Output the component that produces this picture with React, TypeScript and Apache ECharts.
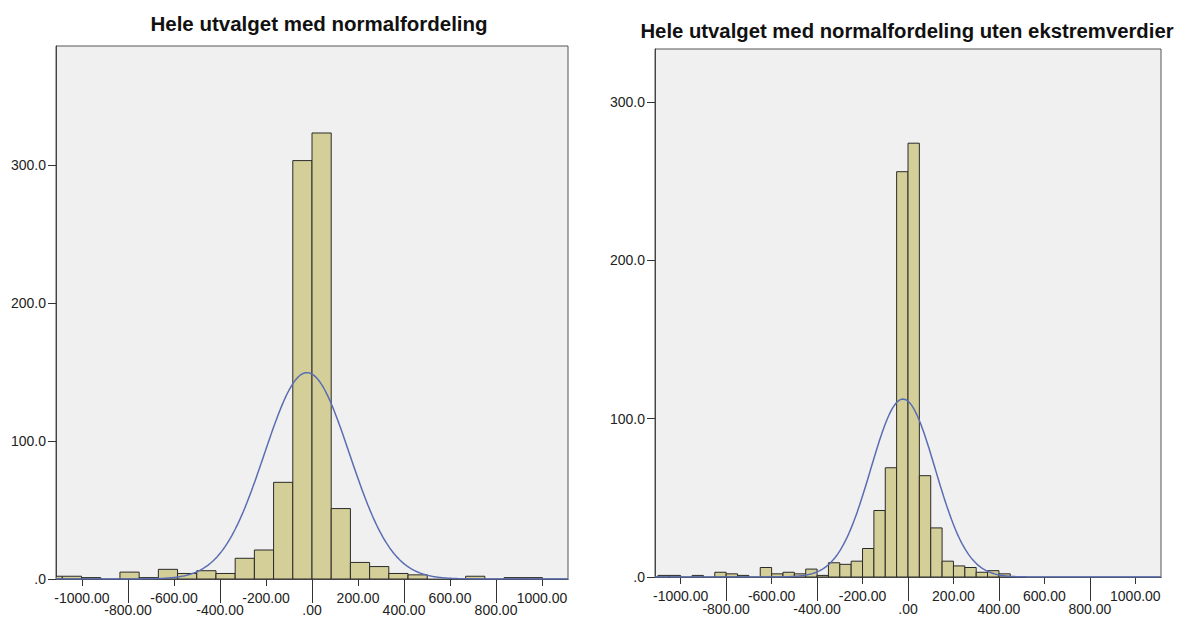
import React, { useEffect, useRef } from "react";
import * as echarts from "echarts";

// ---- data ----
const leftTitle = "Hele utvalget med normalfordeling";
const rightTitle = "Hele utvalget med normalfordeling uten ekstremverdier";

// Left histogram: bin width and first bin edge, counts per bin
const leftBinWidth = 83.5;
const leftFirstEdge = -1169;
const leftCounts = [2, 2, 1, 0, 5, 1, 7, 4, 6, 4, 15, 21, 70, 303, 323, 51, 12, 9, 4, 3, 0, 0, 2, 0, 1, 1];

// Right histogram
const rightBinWidth = 50;
const rightFirstEdge = -1100;
const rightCounts = [1, 1, 0, 1, 0, 3, 2, 1, 0, 6, 2, 3, 2, 5, 1, 9, 8, 10, 18, 42, 69, 256, 274, 64, 31, 10, 7, 6, 3, 4, 2];

// Normal curve parameters (mean, sd, n)
const leftNormal = { mean: -22, sd: 185, n: 830 };
const rightNormal = { mean: -22, sd: 142, n: 800 };

// Axis settings
const xMin = -1113;
const xMax = 1113;
const xLabelsUpper = [-1000, -600, -200, 200, 600, 1000];
const xLabelsLower = [-800, -400, 0, 400, 800];
const yTicks = [0, 100, 200, 300];
const leftYMax = 386;
const rightYMax = 333.5;

const FONT = "'Liberation Sans', Arial, sans-serif";
const BAR_FILL = "#d4cf99";
const BAR_STROKE = "#2a2a2a";
const CURVE = "#5a6db3";
const LABEL_SIZE = 14;

function binData(first: number, width: number, counts: number[]) {
  return counts.map((c, i) => [first + i * width, first + (i + 1) * width, c]);
}

function curveData(p: { mean: number; sd: number; n: number }, binWidth: number) {
  const pts: number[][] = [];
  for (let x = xMin; x <= xMax; x += 5) {
    const z = (x - p.mean) / p.sd;
    const y = (p.n * binWidth) / (p.sd * Math.sqrt(2 * Math.PI)) * Math.exp(-0.5 * z * z);
    pts.push([x, y]);
  }
  return pts;
}

const renderBar = (params: any, api: any) => {
  const x0 = api.value(0);
  const x1 = api.value(1);
  const v = api.value(2);
  if (!v) return null;
  const p0 = api.coord([x0, v]);
  const p1 = api.coord([x1, 0]);
  const cs = params.coordSys;
  const shape = echarts.graphic.clipRectByRect(
    { x: p0[0], y: p0[1], width: p1[0] - p0[0], height: p1[1] - p0[1] },
    { x: cs.x, y: cs.y, width: cs.width, height: cs.height }
  );
  if (!shape) return null;
  return {
    type: "rect",
    shape,
    style: { fill: BAR_FILL, stroke: BAR_STROKE, lineWidth: 1 },
  };
};

const xFmt = (v: number) => (v === 0 ? ".00" : v.toFixed(2));
const yFmt = (v: number) => (v === 0 ? ".0" : v.toFixed(1));

function xAxes(gridIndex: number, upperMargin: number, lowerMargin: number) {
  const common = {
    type: "value",
    gridIndex,
    min: xMin,
    max: xMax,
    position: "bottom",
    splitLine: { show: false },
    axisLine: { show: true, onZero: false, lineStyle: { color: "#444", width: 1 } },
  };
  return [
    {
      ...common,
      axisTick: { show: true, length: 7, customValues: xLabelsUpper, lineStyle: { color: "#333" } },
      axisLabel: {
        customValues: xLabelsUpper,
        formatter: xFmt,
        margin: upperMargin,
        fontSize: LABEL_SIZE,
        color: "#222",
        fontFamily: FONT,
      },
    },
    {
      ...common,
      axisTick: { show: true, length: 24, customValues: xLabelsLower, lineStyle: { color: "#333" } },
      axisLabel: {
        customValues: xLabelsLower,
        formatter: xFmt,
        margin: lowerMargin,
        fontSize: LABEL_SIZE,
        color: "#222",
        fontFamily: FONT,
      },
    },
  ];
}

function yAxis(gridIndex: number, max: number) {
  return {
    type: "value",
    gridIndex,
    min: 0,
    max,
    position: "left",
    splitLine: { show: false },
    axisLine: { show: true, onZero: false, lineStyle: { color: "#444", width: 1 } },
    axisTick: { show: true, length: 8, customValues: yTicks, lineStyle: { color: "#333" } },
    axisLabel: {
      customValues: yTicks,
      formatter: yFmt,
      margin: 10,
      fontSize: LABEL_SIZE,
      color: "#222",
      fontFamily: FONT,
    },
  };
}

export default function App() {
  const ref = useRef<HTMLDivElement>(null);
  useEffect(() => {
    if (!ref.current) return;
    const chart = echarts.init(ref.current, null, { renderer: "svg" });
    chart.setOption({
      animation: false,
      backgroundColor: "#ffffff",
      title: [
        {
          text: leftTitle,
          left: 314,
          top: 8,
          textAlign: "center",
          textStyle: { fontFamily: FONT, fontSize: 20.5, fontWeight: "bold", color: "#111" },
        },
        {
          text: rightTitle,
          left: 902,
          top: 16,
          textAlign: "center",
          textStyle: { fontFamily: FONT, fontSize: 20.3, fontWeight: "bold", color: "#111" },
        },
      ],
      grid: [
        {
          left: 56,
          top: 46,
          width: 512,
          height: 533,
          show: true,
          backgroundColor: "#f0f0f0",
          borderColor: "#555",
          borderWidth: 1,
        },
        {
          left: 655,
          top: 49,
          width: 506,
          height: 528,
          show: true,
          backgroundColor: "#f0f0f0",
          borderColor: "#555",
          borderWidth: 1,
        },
      ],
      xAxis: [...xAxes(0, 12, 24), ...xAxes(1, 12, 25)],
      yAxis: [yAxis(0, leftYMax), yAxis(1, rightYMax)],
      series: [
        {
          type: "custom",
          xAxisIndex: 0,
          yAxisIndex: 0,
          renderItem: renderBar,
          encode: { x: [0, 1], y: 2 },
          data: binData(leftFirstEdge, leftBinWidth, leftCounts),
          clip: true,
        },
        {
          type: "line",
          xAxisIndex: 0,
          yAxisIndex: 0,
          showSymbol: false,
          data: curveData(leftNormal, leftBinWidth),
          lineStyle: { color: CURVE, width: 1.5 },
          clip: true,
        },
        {
          type: "custom",
          xAxisIndex: 2,
          yAxisIndex: 1,
          renderItem: renderBar,
          encode: { x: [0, 1], y: 2 },
          data: binData(rightFirstEdge, rightBinWidth, rightCounts),
          clip: true,
        },
        {
          type: "line",
          xAxisIndex: 2,
          yAxisIndex: 1,
          showSymbol: false,
          data: curveData(rightNormal, rightBinWidth),
          lineStyle: { color: CURVE, width: 1.5 },
          clip: true,
        },
      ],
    });
    return () => chart.dispose();
  }, []);
  return (
    <div
      ref={ref}
      style={{ position: "absolute", left: 0, top: 0, width: 1181, height: 619 }}
    />
  );
}
